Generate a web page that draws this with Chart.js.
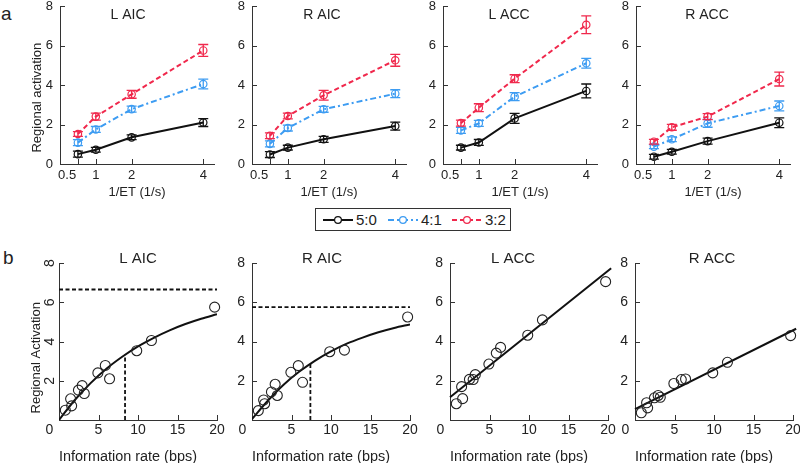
<!DOCTYPE html>
<html>
<head>
<meta charset="utf-8">
<script src="https://cdn.jsdelivr.net/npm/chart.js@4/dist/chart.umd.min.js"></script>
<style>
  html, body { margin:0; padding:0; background:#fff; }
  body { width:800px; height:463px; overflow:hidden; position:relative; font-family:"Liberation Sans", Arial, sans-serif; color:#222; }
  canvas { position:absolute; }
  .plabel { position:absolute; font-size:19px; line-height:19px; color:#222; }
  #legend { position:absolute; left:315px; top:208px; width:196px; height:23px; border:1px solid #333; box-sizing:border-box; background:#fff; }
  .litem { position:absolute; top:0; height:21px; display:flex; align-items:center; font-size:15px; color:#222; }
  .litem svg { display:block; margin-right:3px; }
</style>
</head>
<body>
<div class="plabel" style="left:1px; top:4px;">a</div>
<div class="plabel" style="left:3px; top:248px;">b</div>
<div id="legend"></div>
<script>
// ---------------- data ----------------
const invET = [0.5, 1, 2, 4];                 // 1/ET (1/s)
const xTickValsA = [0.5, 1, 2, 4];
const yTickValsA = [0, 2, 4, 6, 8];
const xTickValsB = [0, 5, 10, 15, 20];
const yTickValsB = [2, 4, 6, 8];
const regionNames = ['L AIC', 'R AIC', 'L ACC', 'R ACC'];
const ratioLabels = ['5:0', '4:1', '3:2'];

// regional activation (means) per ratio condition
const lAic_50 = [0.50, 0.72, 1.35, 2.10];
const lAic_41 = [1.08, 1.75, 2.78, 4.05];
const lAic_32 = [1.52, 2.40, 3.53, 5.75];
const rAic_50 = [0.48, 0.83, 1.25, 1.92];
const rAic_41 = [1.02, 1.82, 2.77, 3.56];
const rAic_32 = [1.43, 2.43, 3.48, 5.25];
const lAcc_50 = [0.83, 1.09, 2.31, 3.70];
const lAcc_41 = [1.70, 2.06, 3.41, 5.10];
const lAcc_32 = [2.07, 2.85, 4.32, 7.05];
const rAcc_50 = [0.37, 0.62, 1.16, 2.09];
const rAcc_41 = [0.88, 1.25, 2.06, 2.94];
const rAcc_32 = [1.13, 1.86, 2.40, 4.30];

// error bars (SEM)
const lAic_50_err = [0.15, 0.12, 0.12, 0.20];
const lAic_41_err = [0.15, 0.15, 0.15, 0.25];
const lAic_32_err = [0.12, 0.18, 0.20, 0.30];
const rAic_50_err = [0.15, 0.12, 0.15, 0.20];
const rAic_41_err = [0.15, 0.15, 0.15, 0.20];
const rAic_32_err = [0.15, 0.15, 0.25, 0.30];
const lAcc_50_err = [0.12, 0.15, 0.25, 0.35];
const lAcc_41_err = [0.15, 0.15, 0.20, 0.25];
const lAcc_32_err = [0.15, 0.20, 0.20, 0.45];
const rAcc_50_err = [0.12, 0.12, 0.15, 0.25];
const rAcc_41_err = [0.10, 0.12, 0.20, 0.25];
const rAcc_32_err = [0.12, 0.15, 0.15, 0.35];

// information rate (bps) of each condition
const infoRate_50 = [0.80, 1.60, 3.20, 6.40];
const infoRate_41 = [1.47, 2.93, 5.86, 11.70];
const infoRate_32 = [2.46, 4.92, 9.84, 19.70];

// fitted curves
const curveX = [0, 2, 4, 6, 8, 10, 12, 14, 16, 18, 20];
const lAicCurve = [0, 1.02, 1.88, 2.61, 3.22, 3.75, 4.19, 4.57, 4.89, 5.16, 5.39];
const rAicCurve = [0.05, 0.98, 1.80, 2.47, 3.03, 3.50, 3.89, 4.20, 4.47, 4.69, 4.87];
const lAicPlateau = 6.65, lAicHalfRate = 8.36, lAicHalfLevel = 3.32;
const rAicPlateau = 5.75, rAicHalfRate = 7.39, rAicHalfLevel = 2.88;
const lineX = [0, 20.4];
const lAccLine = [1.16, 7.73];
const rAccLine = [0.55, 4.65];

// ---------------- styling ----------------
const FONT = '"Liberation Sans", Arial, sans-serif';
const TXT = '#222';
const seriesColors = ['#111111', '#3d9cf2', '#f0284c'];
const seriesDash = [[], [6, 3, 2, 3], [5, 3]];

const aMeans = [[lAic_50, lAic_41, lAic_32], [rAic_50, rAic_41, rAic_32], [lAcc_50, lAcc_41, lAcc_32], [rAcc_50, rAcc_41, rAcc_32]];
const aErrs = [[lAic_50_err, lAic_41_err, lAic_32_err], [rAic_50_err, rAic_41_err, rAic_32_err], [lAcc_50_err, lAcc_41_err, lAcc_32_err], [rAcc_50_err, rAcc_41_err, rAcc_32_err]];
const infoRates = [infoRate_50, infoRate_41, infoRate_32];

const pts = (xs, ys) => xs.map((x, i) => ({ x: x, y: ys[i] }));

// ---------------- plugins ----------------
const errorBarPlugin = {
  id: 'errorBars',
  afterDatasetsDraw(chart) {
    const ctx = chart.ctx, xs = chart.scales.x, ys = chart.scales.y;
    chart.data.datasets.forEach(ds => {
      if (!ds.errorBars) return;
      ctx.save();
      ctx.strokeStyle = ds.borderColor;
      ctx.lineWidth = 1.3;
      ds.data.forEach((p, i) => {
        const e = ds.errorBars[i];
        const px = xs.getPixelForValue(p.x);
        const y1 = ys.getPixelForValue(p.y - e), y2 = ys.getPixelForValue(p.y + e);
        ctx.beginPath();
        ctx.moveTo(px, y1); ctx.lineTo(px, y2);
        ctx.moveTo(px - 5, y1); ctx.lineTo(px + 5, y1);
        ctx.moveTo(px - 5, y2); ctx.lineTo(px + 5, y2);
        ctx.stroke();
      });
      ctx.restore();
    });
  }
};

const tickMarkPlugin = {
  id: 'tickMarks',
  afterDraw(chart) {
    const ctx = chart.ctx, xs = chart.scales.x, ys = chart.scales.y, ca = chart.chartArea;
    ctx.save();
    ctx.strokeStyle = '#333';
    ctx.lineWidth = 1;
    ctx.beginPath();
    xs.ticks.forEach(t => {
      if (t.value === xs.min) return;
      const px = Math.round(xs.getPixelForValue(t.value)) + 0.5;
      ctx.moveTo(px, ca.bottom); ctx.lineTo(px, ca.bottom - 5);
    });
    ys.ticks.forEach(t => {
      if (t.value === ys.min) return;
      const py = Math.round(ys.getPixelForValue(t.value)) + 0.5;
      ctx.moveTo(ca.left, py); ctx.lineTo(ca.left + 5, py);
    });
    ctx.stroke();
    ctx.restore();
  }
};

const panelTitlePlugin = {
  id: 'panelTitle',
  afterDraw(chart, args, opts) {
    const ctx = chart.ctx;
    ctx.save();
    ctx.font = opts.size + 'px ' + FONT;
    ctx.fillStyle = TXT;
    ctx.textAlign = 'center';
    ctx.textBaseline = 'middle';
    ctx.fillText(opts.text, opts.x, opts.y);
    ctx.restore();
  }
};

function addCanvas(left, top, w, h) {
  const cv = document.createElement('canvas');
  cv.width = w; cv.height = h;
  cv.style.left = left + 'px'; cv.style.top = top + 'px';
  cv.style.width = w + 'px'; cv.style.height = h + 'px';
  document.body.appendChild(cv);
  return cv;
}

// ---------------- panel a ----------------
const aLeft = [60, 252, 443, 636];
const aTitleX = [128, 322, 509, 707];
const aW = 154, aYW = 60, aCanvasTop = -10, aH = 210, aPadTop = 16;

regionNames.forEach((name, p) => {
  const cleft = aLeft[p] - aYW;
  const cv = addCanvas(cleft, aCanvasTop, aYW + aW + 12, aH);
  const datasets = ratioLabels.map((lab, s) => ({
    label: lab,
    data: pts(invET, aMeans[p][s]),
    errorBars: aErrs[p][s],
    borderColor: seriesColors[s],
    borderWidth: 2,
    borderDash: seriesDash[s],
    pointRadius: 3.7,
    pointBorderWidth: 1.2,
    pointBorderColor: seriesColors[s],
    pointBackgroundColor: 'rgba(255,255,255,0)',
    fill: false,
    tension: 0,
    clip: false
  }));
  new Chart(cv, {
    type: 'line',
    data: { datasets },
    options: {
      responsive: false, animation: false, devicePixelRatio: 1,
      layout: { padding: { left: 0, top: aPadTop, right: 12, bottom: 0 } },
      plugins: {
        legend: { display: false }, tooltip: { enabled: false },
        panelTitle: { text: name, x: aTitleX[p] - cleft, y: 15 - aCanvasTop, size: 14 }
      },
      scales: {
        x: {
          type: 'linear', min: 0, max: 4.3,
          afterBuildTicks: s => { s.ticks = xTickValsA.map(v => ({ value: v })); },
          afterFit: s => { s.height = 36; },
          grid: { display: false, drawTicks: false },
          border: { display: true, color: '#333', width: 1 },
          ticks: { padding: 4, color: TXT, font: { family: FONT, size: 13 }, autoSkip: false, maxRotation: 0,
                   callback: v => (v === 0.5 ? '0.5      ' : String(v)) },
          title: { display: true, text: '1/ET (1/s)', color: TXT, font: { family: FONT, size: 13 }, padding: { top: 0, bottom: 0 } }
        },
        y: {
          min: 0, max: 8,
          afterBuildTicks: s => { s.ticks = yTickValsA.map(v => ({ value: v })); },
          afterFit: s => { s.width = aYW; },
          grid: { display: false, drawTicks: false },
          border: { display: true, color: '#333', width: 1 },
          ticks: { padding: 7, color: TXT, font: { family: FONT, size: 13 } },
          title: { display: p === 0, text: 'Regional activation       ', color: TXT, font: { family: FONT, size: 13 }, padding: { top: 30, bottom: 0 } }
        }
      }
    },
    plugins: [errorBarPlugin, tickMarkPlugin, panelTitlePlugin]
  });
});

// ---------------- legend ----------------
const legend = document.getElementById('legend');
const legendOffsets = [7, 72, 136];
ratioLabels.forEach((lab, s) => {
  const it = document.createElement('div');
  it.className = 'litem';
  it.style.left = legendOffsets[s] + 'px';
  const dash = seriesDash[s].length ? ' stroke-dasharray="' + seriesDash[s].join(',') + '"' : '';
  it.innerHTML = '<svg width="30" height="10"><line x1="0" y1="5" x2="30" y2="5" stroke="' + seriesColors[s] + '" stroke-width="2"' + dash + '/>' +
    '<circle cx="15" cy="5" r="3.4" fill="#fff" stroke="' + seriesColors[s] + '" stroke-width="1.2"/></svg><span>' + lab + '</span>';
  legend.appendChild(it);
});

// ---------------- panel b ----------------
const bLeft = [59, 252, 450, 635];
const bTitleX = [138, 322, 513, 712];
const bW = 158, bYW = 60, bCanvasTop = 240, bH = 223, bPadTop = 23;

regionNames.forEach((name, p) => {
  const cleft = bLeft[p] - bYW;
  const cv = addCanvas(cleft, bCanvasTop, bYW + bW + 14, bH);
  const scatterPts = [];
  infoRates.forEach((rates, s) => { pts(rates, aMeans[p][s]).forEach(pt => scatterPts.push(pt)); });
  const datasets = [{
    label: 'data', data: scatterPts, showLine: false, clip: false,
    pointRadius: 5, pointBorderWidth: 1.1, pointBorderColor: '#222', pointBackgroundColor: 'rgba(255,255,255,0)'
  }];
  if (p < 2) {
    const curve = p === 0 ? lAicCurve : rAicCurve;
    const plateau = p === 0 ? lAicPlateau : rAicPlateau;
    const halfRate = p === 0 ? lAicHalfRate : rAicHalfRate;
    const halfLevel = p === 0 ? lAicHalfLevel : rAicHalfLevel;
    datasets.push({ label: 'fit', data: pts(curveX, curve), borderColor: '#111', borderWidth: 2, pointRadius: 0, cubicInterpolationMode: 'monotone', fill: false });
    datasets.push({ label: 'plateau', data: [{ x: 0, y: plateau }, { x: 20, y: plateau }], borderColor: '#111', borderWidth: 1.8, borderDash: [4, 2.5], pointRadius: 0, fill: false });
    datasets.push({ label: 'half', data: [{ x: halfRate, y: 0 }, { x: halfRate, y: halfLevel }], borderColor: '#111', borderWidth: 1.8, borderDash: [4, 2.5], pointRadius: 0, fill: false });
  } else {
    const ln = p === 2 ? lAccLine : rAccLine;
    datasets.push({ label: 'fit', data: pts(lineX, ln), borderColor: '#111', borderWidth: 2, pointRadius: 0, fill: false, clip: false });
  }
  new Chart(cv, {
    type: 'line',
    data: { datasets },
    options: {
      responsive: false, animation: false, devicePixelRatio: 1,
      layout: { padding: { left: 0, top: bPadTop, right: 14, bottom: 0 } },
      plugins: {
        legend: { display: false }, tooltip: { enabled: false },
        panelTitle: { text: name, x: bTitleX[p] - cleft, y: 258.5 - bCanvasTop, size: 15 }
      },
      scales: {
        x: {
          type: 'linear', min: 0, max: 20,
          afterBuildTicks: s => { s.ticks = xTickValsB.map(v => ({ value: v })); },
          afterFit: s => { s.height = 43; },
          grid: { display: false, drawTicks: false },
          border: { display: true, color: '#333', width: 1 },
          ticks: { padding: 2, color: TXT, font: { family: FONT, size: 14 }, autoSkip: false, maxRotation: 0,
                   callback: v => (v === 0 ? '0     ' : String(v)) },
          title: { display: true, text: 'Information rate (bps)     ', color: TXT, font: { family: FONT, size: 15.5 }, padding: { top: 0, bottom: -3 } }
        },
        y: {
          min: 0, max: 8,
          afterBuildTicks: s => { s.ticks = yTickValsB.map(v => ({ value: v })); },
          afterFit: s => { s.width = bYW; },
          grid: { display: false, drawTicks: false },
          border: { display: true, color: '#333', width: 1 },
          ticks: p === 0
            ? { padding: 5, color: TXT, font: { family: FONT, size: 14 }, minRotation: 90, maxRotation: 90, crossAlign: 'center' }
            : { padding: 7, color: TXT, font: { family: FONT, size: 14 } },
          title: { display: p === 0, text: 'Regional Activation         ', color: TXT, font: { family: FONT, size: 13 }, padding: { top: 30, bottom: 0 } }
        }
      }
    },
    plugins: [tickMarkPlugin, panelTitlePlugin]
  });
});
</script>
</body>
</html>
